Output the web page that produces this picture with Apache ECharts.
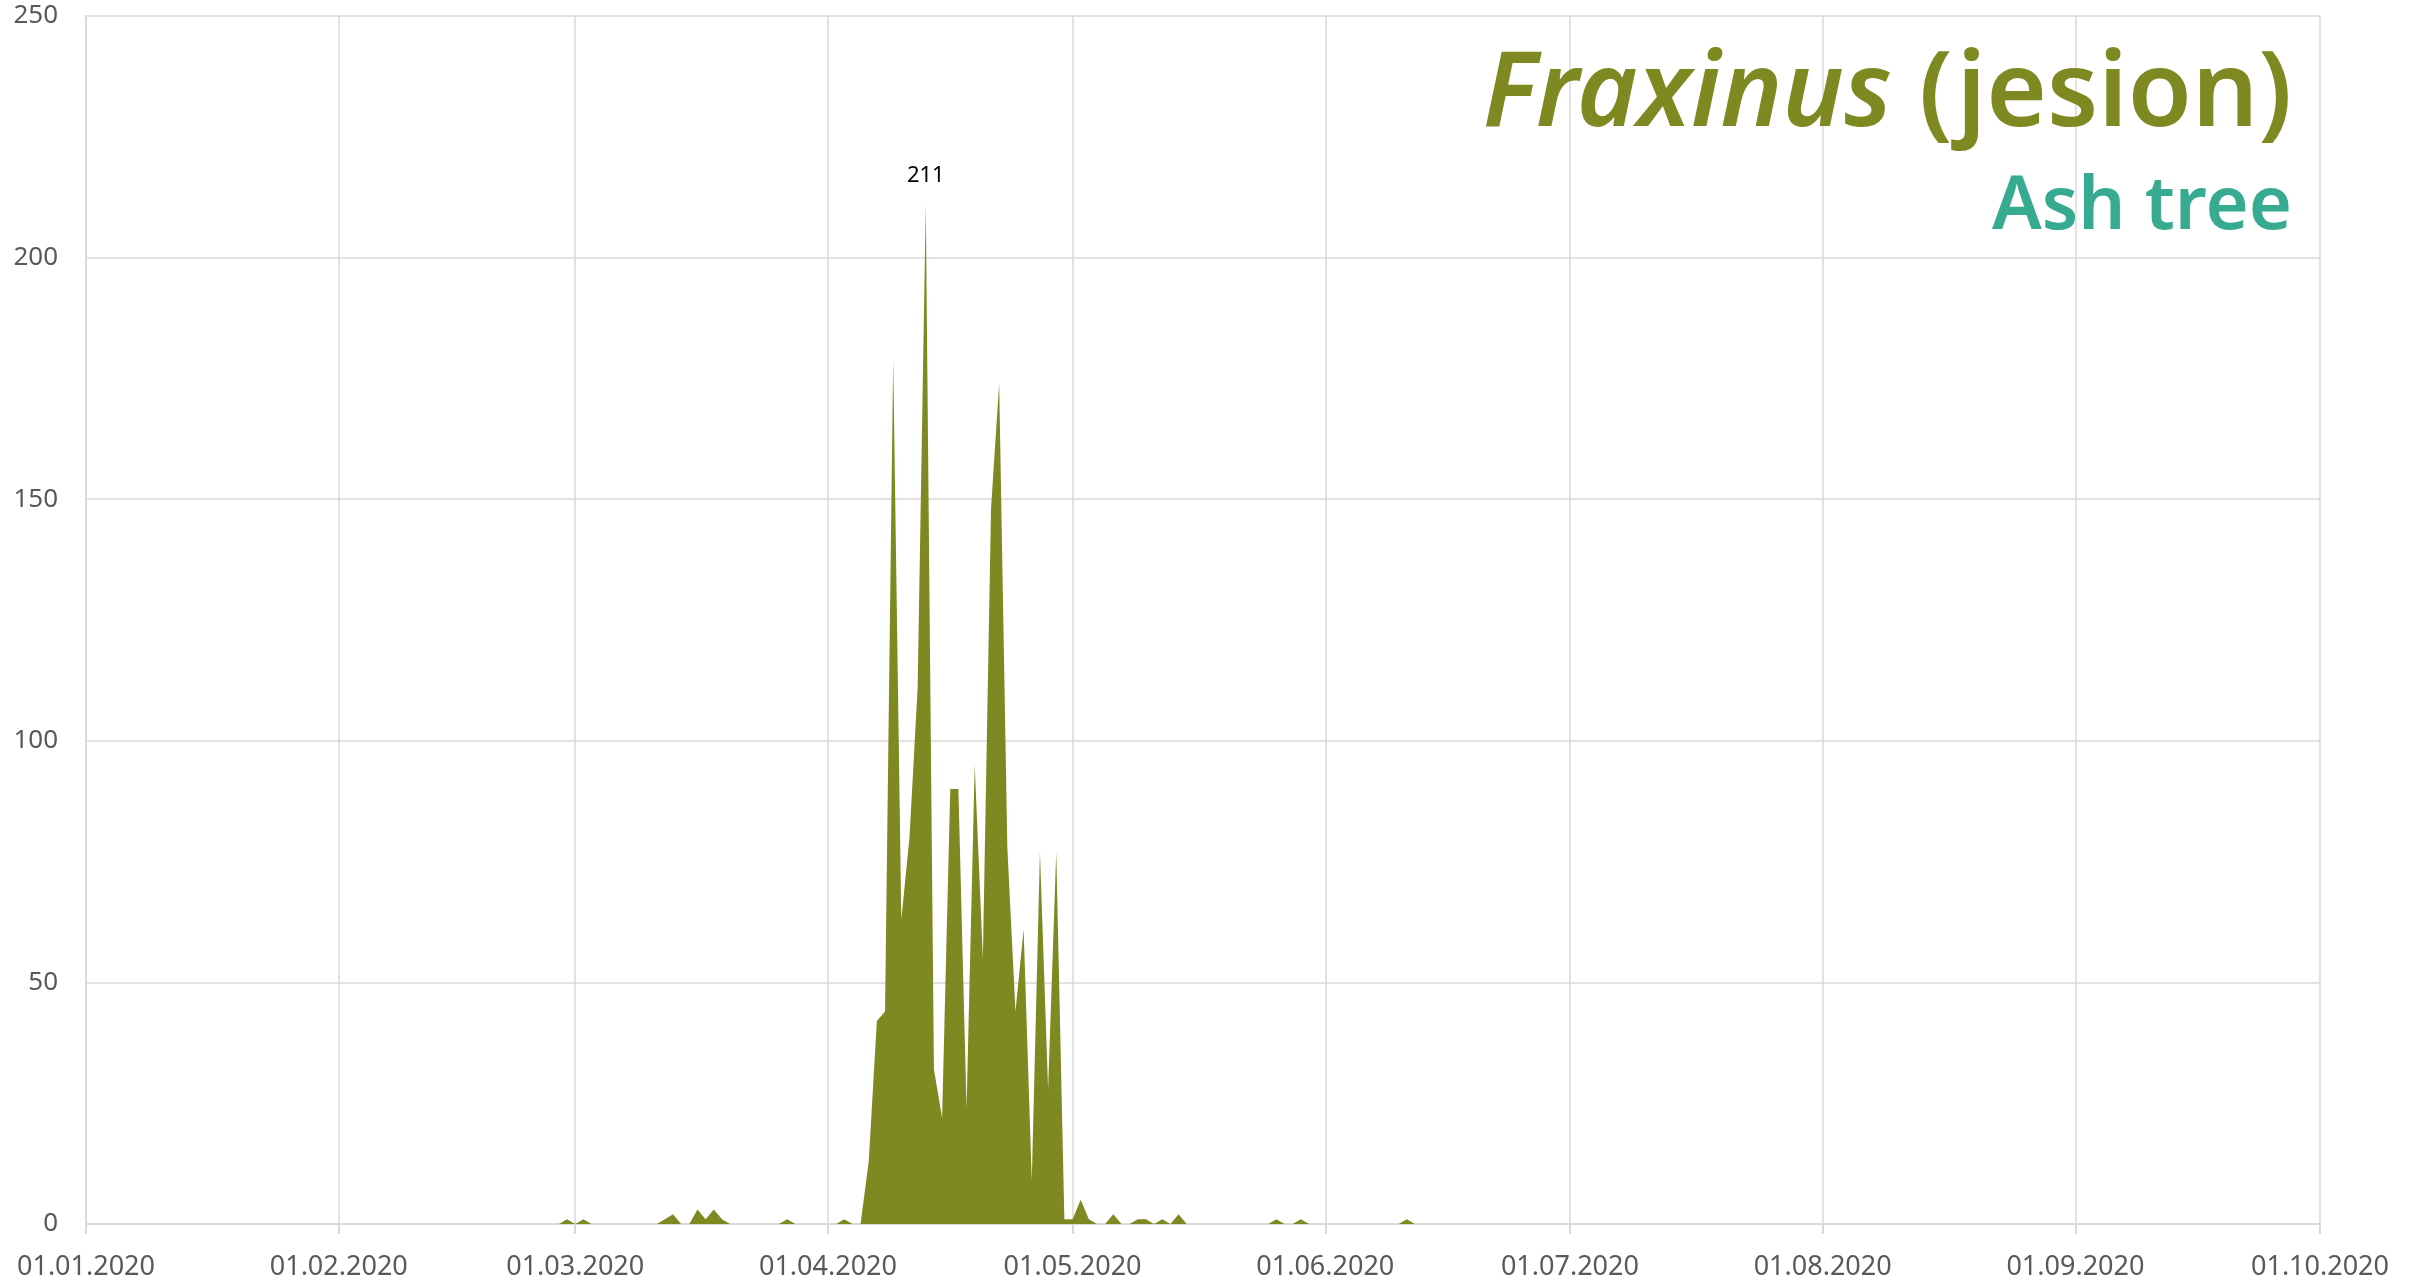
<!DOCTYPE html>
<html>
<head>
<meta charset="utf-8">
<script src="https://cdn.jsdelivr.net/npm/echarts@6/dist/echarts.min.js"></script>
<style>
  html, body { margin: 0; padding: 0; background: #fff; }
  #chart { width: 2420px; height: 1283px; }
</style>
</head>
<body>
<div id="chart"></div>
<script>
// daily pollen counts, one value per day starting at startDate (zero outside)
var startDate = '2020-02-28'
var dailyCounts = [
  0, 1, 0, 1, 0, 0, 0, 0, 0, 0, 0, 0,      // 28.02 - 10.03
  0, 1, 2, 0, 0, 3, 1, 3, 1, 0,             // 11.03 - 20.03
  0, 0, 0, 0, 0, 0, 1, 0, 0, 0,             // 21.03 - 30.03
  0, 0, 0, 1, 0, 0, 13, 42, 44, 179,        // 31.03 - 09.04
  63, 80, 111, 211, 32, 22, 90, 90, 24, 95, // 10.04 - 19.04
  55, 148, 174, 78, 44, 61, 9, 77, 28, 77,  // 20.04 - 29.04
  1, 1, 5, 1, 0, 0, 2, 0, 0, 1,             // 30.04 - 09.05
  1, 0, 1, 0, 2, 0, 0, 0, 0, 0,             // 10.05 - 19.05
  0, 0, 0, 0, 0, 0, 1, 0, 0, 1,             // 20.05 - 29.05
  0, 0, 0, 0, 0, 0, 0, 0, 0, 0,             // 30.05 - 08.06
  0, 0, 1, 0                                // 09.06 - 12.06
]
var yTicks = [0, 50, 100, 150, 200, 250]
var xMin = '2020-01-01'
var xMax = '2020-10-01'

var olive = '#7e8a21'
var teal = '#36ab8f'
var labelFont = '"Noto Sans", sans-serif'

var seriesData = [[xMin, 0]]
var day0 = new Date(startDate + 'T00:00:00Z').getTime()
for (var i = 0; i < dailyCounts.length; i++) {
  seriesData.push([day0 + i * 86400000, dailyCounts[i]])
}
seriesData.push([xMax, 0])

var chart = echarts.init(document.getElementById('chart'))
chart.setOption({
  animation: false,
  backgroundColor: '#fff',
  title: [
    {
      text: '{i|Fraxinus}{n| (jesion)}',
      right: 123,
      top: 39,
      textStyle: {
        rich: {
          i: { fontFamily: labelFont, fontStyle: 'italic', fontWeight: 600, fontSize: 104, color: olive },
          n: { fontFamily: labelFont, fontWeight: 600, fontSize: 104, color: olive }
        }
      }
    },
    {
      text: 'Ash tree',
      right: 123,
      top: 166,
      textStyle: { fontFamily: labelFont, fontWeight: 600, fontSize: 74, color: teal }
    }
  ],
  grid: {
    left: 86,
    right: 100,
    top: 16,
    bottom: 59
  },
  xAxis: {
    type: 'time',
    min: xMin,
    max: xMax,
    splitNumber: 9,
    axisLine: { show: true, lineStyle: { color: '#d9d9d9', width: 2 } },
    axisTick: { show: true, length: 10, lineStyle: { color: '#d9d9d9', width: 2 } },
    splitLine: { show: true, lineStyle: { color: '#d9d9d9', width: 1.5 } },
    axisLabel: {
      formatter: '{dd}.{MM}.{yyyy}',
      color: '#595959',
      fontFamily: labelFont,
      fontSize: 27,
      margin: 30,
      showMinLabel: true,
      showMaxLabel: true
    }
  },
  yAxis: {
    type: 'value',
    min: yTicks[0],
    max: yTicks[yTicks.length - 1],
    interval: 50,
    axisLine: { show: true, lineStyle: { color: '#d9d9d9', width: 2 } },
    axisTick: { show: false },
    splitLine: { show: true, lineStyle: { color: '#d9d9d9', width: 1.5 } },
    axisLabel: {
      color: '#595959',
      fontFamily: labelFont,
      fontSize: 26,
      margin: 28
    }
  },
  series: [
    {
      name: 'Fraxinus',
      type: 'line',
      data: seriesData,
      symbol: 'none',
      lineStyle: { width: 0 },
      areaStyle: { color: olive, opacity: 1 },
      markPoint: {
        symbol: 'circle',
        symbolSize: 0,
        data: [{ type: 'max' }],
        label: {
          show: true,
          position: 'top',
          distance: 18,
          color: '#000',
          fontFamily: labelFont,
          fontSize: 22
        }
      }
    }
  ]
})
</script>
</body>
</html>
